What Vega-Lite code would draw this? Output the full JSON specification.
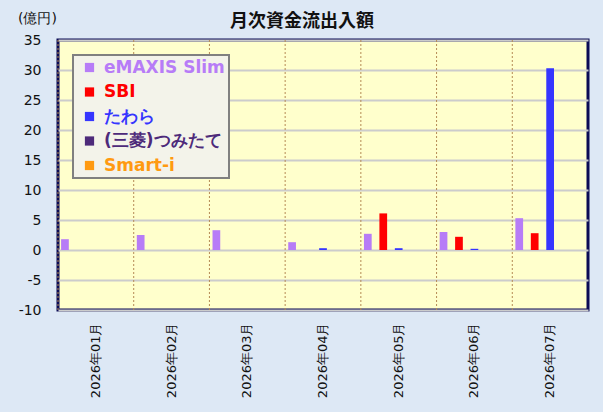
{
  "$schema": "https://vega.github.io/schema/vega-lite/v6.json",
  "width": 530,
  "height": 270,
  "autosize": {"type": "none"},
  "padding": {"left": 58, "top": 40, "right": 15, "bottom": 102},
  "background": "#dde8f5",
  "config": {
    "font": "DejaVu Sans",
    "view": {"fill": "#ffffcc", "stroke": "#0b0b55", "strokeWidth": 3},
    "axisY": {
      "values": [-10, -5, 0, 5, 10, 15, 20, 25, 30, 35],
      "labelOverlap": false,
      "labelExpr": "'' + datum.value",
      "titleAngle": 0,
      "titleX": -21,
      "titleY": -22,
      "titleAlign": "center",
      "titleBaseline": "middle",
      "titleFontSize": 14,
      "titleFontWeight": "normal",
      "titleColor": "#111111",
      "labelFontSize": 14,
      "labelColor": "#111111",
      "labelPadding": 17,
      "ticks": false,
      "domain": false,
      "grid": true,
      "gridColor": "#cccccc",
      "gridWidth": 2
    }
  },
  "title": {
    "text": "月次資金流出入額",
    "fontSize": 18,
    "fontWeight": "bold",
    "color": "#111111",
    "font": "Noto Sans CJK JP",
    "dx": -21,
    "dy": 30,
    "offset": 10
  },
  "data": {
    "values": [
      {"month": "2026年01月", "fund": "eMAXIS Slim", "value": 1.8},
      {"month": "2026年01月", "fund": "SBI", "value": 0},
      {"month": "2026年01月", "fund": "たわら", "value": 0},
      {"month": "2026年01月", "fund": "(三菱)つみたて", "value": 0},
      {"month": "2026年01月", "fund": "Smart-i", "value": 0},
      {"month": "2026年02月", "fund": "eMAXIS Slim", "value": 2.5},
      {"month": "2026年02月", "fund": "SBI", "value": 0},
      {"month": "2026年02月", "fund": "たわら", "value": 0},
      {"month": "2026年02月", "fund": "(三菱)つみたて", "value": 0},
      {"month": "2026年02月", "fund": "Smart-i", "value": 0},
      {"month": "2026年03月", "fund": "eMAXIS Slim", "value": 3.3},
      {"month": "2026年03月", "fund": "SBI", "value": 0},
      {"month": "2026年03月", "fund": "たわら", "value": 0},
      {"month": "2026年03月", "fund": "(三菱)つみたて", "value": 0},
      {"month": "2026年03月", "fund": "Smart-i", "value": 0},
      {"month": "2026年04月", "fund": "eMAXIS Slim", "value": 1.3},
      {"month": "2026年04月", "fund": "SBI", "value": 0},
      {"month": "2026年04月", "fund": "たわら", "value": 0.3},
      {"month": "2026年04月", "fund": "(三菱)つみたて", "value": 0},
      {"month": "2026年04月", "fund": "Smart-i", "value": 0},
      {"month": "2026年05月", "fund": "eMAXIS Slim", "value": 2.7},
      {"month": "2026年05月", "fund": "SBI", "value": 6.1},
      {"month": "2026年05月", "fund": "たわら", "value": 0.3},
      {"month": "2026年05月", "fund": "(三菱)つみたて", "value": 0},
      {"month": "2026年05月", "fund": "Smart-i", "value": 0},
      {"month": "2026年06月", "fund": "eMAXIS Slim", "value": 3.0},
      {"month": "2026年06月", "fund": "SBI", "value": 2.2},
      {"month": "2026年06月", "fund": "たわら", "value": 0.2},
      {"month": "2026年06月", "fund": "(三菱)つみたて", "value": 0},
      {"month": "2026年06月", "fund": "Smart-i", "value": 0},
      {"month": "2026年07月", "fund": "eMAXIS Slim", "value": 5.3},
      {"month": "2026年07月", "fund": "SBI", "value": 2.8},
      {"month": "2026年07月", "fund": "たわら", "value": 30.3},
      {"month": "2026年07月", "fund": "(三菱)つみたて", "value": 0},
      {"month": "2026年07月", "fund": "Smart-i", "value": 0}
    ]
  },
  "encoding": {
    "x": {
      "field": "month",
      "type": "nominal",
      "sort": null,
      "scale": {"paddingInner": 0, "paddingOuter": 0},
      "axis": {
        "title": null,
        "labelAngle": -90,
        "labelFontSize": 13,
        "labelColor": "#111111",
        "labelPadding": 12,
        "ticks": false,
        "domain": false,
        "grid": false
      }
    }
  },
  "layer": [
    {
      "mark": {"type": "rule", "stroke": "#b58a55", "strokeWidth": 1, "strokeDash": [2, 2]},
      "transform": [{"filter": "datum.fund == 'eMAXIS Slim'"}],
      "encoding": {
        "x": {"field": "month", "type": "nominal", "sort": null, "bandPosition": 0}
      }
    },
    {
      "mark": {"type": "bar"},
      "encoding": {
        "xOffset": {
          "field": "fund",
          "type": "nominal",
          "sort": null,
          "scale": {"domain": ["eMAXIS Slim", "SBI", "たわら", "(三菱)つみたて", "Smart-i"], "paddingInner": 0.5, "paddingOuter": 0.2}
        },
        "y": {
          "field": "value",
          "type": "quantitative",
          "scale": {"domain": [-10, 35], "nice": false},
          "axis": {"title": "(億円)", "values": [-10, -5, 0, 5, 10, 15, 20, 25, 30, 35], "labelOverlap": false, "labelExpr": "'' + datum.value"}
        },
        "color": {
          "field": "fund",
          "type": "nominal",
          "sort": null,
          "scale": {
            "domain": ["eMAXIS Slim", "SBI", "たわら", "(三菱)つみたて", "Smart-i"],
            "range": ["#b77cf7", "#ff0000", "#3535ff", "#4d2a7a", "#ff9a10"]
          },
          "legend": {
            "title": null,
            "orient": "none",
            "legendX": 15,
            "legendY": 15,
            "padding": 4,
            "fillColor": "#f3f3ea",
            "strokeColor": "#808080",
            "symbolType": "square",
            "symbolSize": 85,
            "symbolStrokeWidth": 0,
            "symbolOffset": 4,
            "labelFontSize": 17,
            "labelFontWeight": "bold",
            "labelOffset": 6,
            "rowPadding": 6.5,
            "labelLimit": 300,
            "encode": {
              "labels": {"update": {"fill": {"scale": "color", "field": "value"}}},
              "legend": {"update": {"strokeWidth": {"value": 2}}}
            }
          }
        }
      }
    },
    {
      "mark": {"type": "rule", "stroke": "#6b3a14", "strokeWidth": 2},
      "encoding": {
        "y": {"datum": 0, "type": "quantitative", "scale": {"domain": [-10, 35], "nice": false}, "axis": {"title": "(億円)", "values": [-10, -5, 0, 5, 10, 15, 20, 25, 30, 35], "labelOverlap": false, "labelExpr": "'' + datum.value"}}
      }
    }
  ]
}
